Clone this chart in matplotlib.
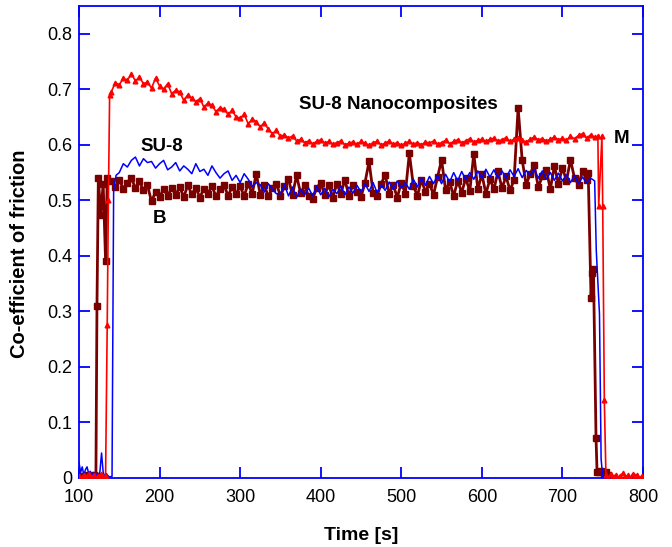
import numpy as np
import matplotlib
matplotlib.use("Agg")
import matplotlib.pyplot as plt

plt.rcParams['font.family'] = ['Liberation Sans', 'DejaVu Sans']

# ---- data ----
# red, "M" (SU-8 nanocomposites)
red_t_start = [100, 103, 106, 109, 112, 115, 118, 121, 124, 127, 130, 133, 135, 136.5, 138]
red_v_start = [0.003, 0.0, 0.006, 0.002, 0.008, 0.001, 0.005, 0.0, 0.004, 0.007, 0.002, 0.004,
               0.275, 0.50, 0.69]
red_t_main = np.arange(140, 745, 5)
red_v_main = [
    0.695, 0.712, 0.708, 0.72, 0.716,
    0.728, 0.715, 0.722, 0.71, 0.713, 0.702, 0.72, 0.706,
    0.70, 0.71, 0.692, 0.698, 0.695, 0.68, 0.69, 0.684,
    0.678, 0.683, 0.668, 0.675, 0.671, 0.66, 0.667, 0.664,
    0.655, 0.662, 0.65, 0.648, 0.655, 0.638, 0.646, 0.642,
    0.632, 0.64, 0.628, 0.62, 0.626, 0.615, 0.618, 0.612,
    0.616, 0.607, 0.61, 0.604, 0.607, 0.602, 0.606, 0.609,
    0.603, 0.606, 0.601, 0.604, 0.607, 0.60, 0.603, 0.605,
    0.601, 0.606, 0.603, 0.599, 0.604, 0.606, 0.60, 0.603,
    0.607, 0.601, 0.604, 0.599, 0.603, 0.606, 0.601, 0.604,
    0.60, 0.605, 0.603, 0.607, 0.601, 0.604, 0.608, 0.602,
    0.606, 0.609, 0.604, 0.607, 0.611, 0.605, 0.608, 0.61,
    0.606, 0.61, 0.612, 0.607, 0.609, 0.613, 0.606, 0.61,
    0.612, 0.608, 0.605, 0.61, 0.614, 0.609, 0.611, 0.607,
    0.61, 0.614, 0.609, 0.612, 0.608, 0.615, 0.611, 0.617,
    0.62, 0.612, 0.618, 0.614,
]
red_t_end = [744, 745, 749, 750, 752, 754, 757, 760, 763, 766, 769, 772, 775, 778, 781,
             784, 787, 790, 793, 796, 799]
red_v_end = [0.615, 0.49, 0.615, 0.49, 0.14, 0.005, 0.0, 0.008, 0.002, 0.006, 0.0, 0.004,
             0.009, 0.001, 0.005, 0.0, 0.007, 0.003, 0.006, 0.0, 0.004]

# blue, "SU-8"
blue_t_start = [100, 102, 104, 106, 108, 110, 112, 114, 116, 118, 120, 122, 124, 126, 128,
                130, 132, 134, 136, 138, 141, 143, 146]
blue_v_start = [0.028, 0.01, 0.02, 0.005, 0.015, 0.02, 0.008, 0.012, 0.004, 0.01, 0.003,
                0.006, 0.002, 0.012, 0.045, 0.01, 0.003, 0.008, 0.004, 0.002, 0.003, 0.52, 0.545]
blue_t_main = np.arange(150, 745, 5)
blue_v_main = [
    0.55, 0.566, 0.56, 0.572, 0.578, 0.562, 0.575, 0.568,
    0.57, 0.558, 0.566, 0.572, 0.555, 0.56, 0.568, 0.553,
    0.562, 0.556, 0.548, 0.566, 0.552, 0.556, 0.545, 0.562,
    0.55, 0.54, 0.548, 0.553, 0.536, 0.545, 0.532, 0.548,
    0.538, 0.525, 0.532, 0.528, 0.515, 0.53, 0.52, 0.512,
    0.512, 0.528, 0.508, 0.524, 0.505, 0.52, 0.51, 0.522,
    0.508, 0.525, 0.51, 0.522, 0.506, 0.52, 0.512, 0.526,
    0.51, 0.524, 0.513, 0.527, 0.515, 0.53, 0.516, 0.532,
    0.514, 0.528, 0.518, 0.533, 0.52, 0.535, 0.522, 0.532,
    0.52, 0.538, 0.524, 0.54, 0.527, 0.543, 0.53, 0.545,
    0.53, 0.547, 0.533, 0.55, 0.535, 0.552, 0.537, 0.55,
    0.538, 0.553, 0.54, 0.556, 0.542, 0.555, 0.54, 0.553,
    0.54, 0.555, 0.543, 0.557, 0.541, 0.554, 0.545, 0.556,
    0.54, 0.553, 0.538, 0.55, 0.536, 0.549, 0.535, 0.546,
    0.532, 0.545, 0.53, 0.542, 0.531, 0.54, 0.535,
]
blue_t_end = [742, 746, 748, 750, 760, 775, 790, 800]
blue_v_end = [0.41, 0.295, 0.034, 0.003, 0.001, 0.0, 0.002, 0.0]

# maroon, "B"
b_t_start = [100, 103, 106, 109, 112, 115, 118, 121, 122.3, 124, 127, 130, 133, 135]
b_v_start = [0.0, 0.004, 0.0, 0.006, 0.002, 0.0, 0.005, 0.003, 0.31, 0.54, 0.474, 0.53,
             0.39, 0.54]
b_t_main = np.arange(140, 735, 5)
b_v_main = [
    0.535, 0.524, 0.536, 0.521, 0.532, 0.54, 0.522, 0.534,
    0.518, 0.527, 0.498, 0.515, 0.506, 0.52, 0.508, 0.522,
    0.51, 0.524, 0.506, 0.527, 0.511, 0.523, 0.505, 0.521,
    0.512, 0.526, 0.507, 0.52, 0.528, 0.508, 0.524, 0.512,
    0.525, 0.508, 0.53, 0.512, 0.548, 0.51, 0.527, 0.507,
    0.522, 0.53, 0.508, 0.525, 0.538, 0.51, 0.545, 0.513,
    0.527, 0.507, 0.503, 0.522, 0.532, 0.51, 0.528, 0.505,
    0.53, 0.512, 0.537, 0.508, 0.528, 0.515, 0.506, 0.532,
    0.57, 0.514, 0.508, 0.53, 0.546, 0.512, 0.528, 0.505,
    0.532, 0.512, 0.585, 0.526, 0.508, 0.537, 0.515, 0.53,
    0.51, 0.542, 0.573, 0.518, 0.533, 0.508, 0.535, 0.514,
    0.54, 0.516, 0.584, 0.52, 0.547, 0.512, 0.538, 0.52,
    0.552, 0.522, 0.543, 0.518, 0.537, 0.667, 0.573, 0.528,
    0.548, 0.564, 0.524, 0.543, 0.555, 0.52, 0.562, 0.53,
    0.559, 0.535, 0.573, 0.54, 0.528, 0.553, 0.536,
]
b_t_end = [732, 735.5, 737, 738.5, 741.7, 743, 745, 748, 751, 754, 756]
b_v_end = [0.55, 0.324, 0.37, 0.377, 0.072, 0.01, 0.01, 0.012, 0.008, 0.01, 0.005]

x_ticks = [100, 200, 300, 400, 500, 600, 700, 800]
y_ticks = [0, 0.1, 0.2, 0.3, 0.4, 0.5, 0.6, 0.7, 0.8]
y_tick_labels = ['0', '0.1', '0.2', '0.3', '0.4', '0.5', '0.6', '0.7', '0.8']

red_t = np.concatenate([red_t_start, red_t_main, red_t_end])
red_v = np.concatenate([red_v_start, red_v_main, red_v_end])
blue_t = np.concatenate([blue_t_start, blue_t_main, blue_t_end])
blue_v = np.concatenate([blue_v_start, blue_v_main, blue_v_end])
b_t = np.concatenate([b_t_start, b_t_main, b_t_end])
b_v = np.concatenate([b_v_start, b_v_main, b_v_end])

# ---- figure ----
fig = plt.figure(figsize=(6.72, 5.47), dpi=100, facecolor='white')
ax = fig.add_axes([79 / 672, 69 / 547, 564 / 672, 472 / 547])

ax.plot(b_t, b_v, color='#7a0000', lw=2.0, marker='s', ms=4.3, zorder=2)
ax.plot(blue_t, blue_v, color='#0000ff', lw=1.1, zorder=3)
ax.plot(red_t, red_v, color='#ff0000', lw=1.2, marker='^', ms=3.4, zorder=4)

# annotations
ax.text(496, 0.672, 'SU-8 Nanocomposites', fontsize=13.5, fontweight='bold',
        ha='center', va='center')
ax.text(203, 0.597, 'SU-8', fontsize=13.5, fontweight='bold', ha='center', va='center')
ax.text(200.5, 0.467, 'B', fontsize=13.5, fontweight='bold', ha='center', va='center')
ax.text(774, 0.612, 'M', fontsize=13.5, fontweight='bold', ha='center', va='center')

# axes styling
ax.set_xlim(100, 800)
ax.set_ylim(0, 0.85)
ax.set_xticks(x_ticks)
ax.set_yticks(y_ticks)
ax.set_yticklabels(y_tick_labels)

for sp in ax.spines.values():
    sp.set_color('#0000ff')
    sp.set_linewidth(1.3)

ax.tick_params(axis='both', which='both', direction='in', top=True, right=True,
               length=8, width=1.3, color='#0000ff', labelsize=13, labelcolor='black')
ax.tick_params(axis='x', pad=8)
ax.tick_params(axis='y', pad=5)

ax.set_xlabel('Time [s]', fontsize=14, fontweight='bold', labelpad=15)
ax.set_ylabel('Co-efficient of friction', fontsize=14.5, fontweight='bold')
ax.yaxis.set_label_coords(-0.088, 0.475)

plt.savefig('out.png', dpi=100, facecolor='white')
plt.close(fig)
